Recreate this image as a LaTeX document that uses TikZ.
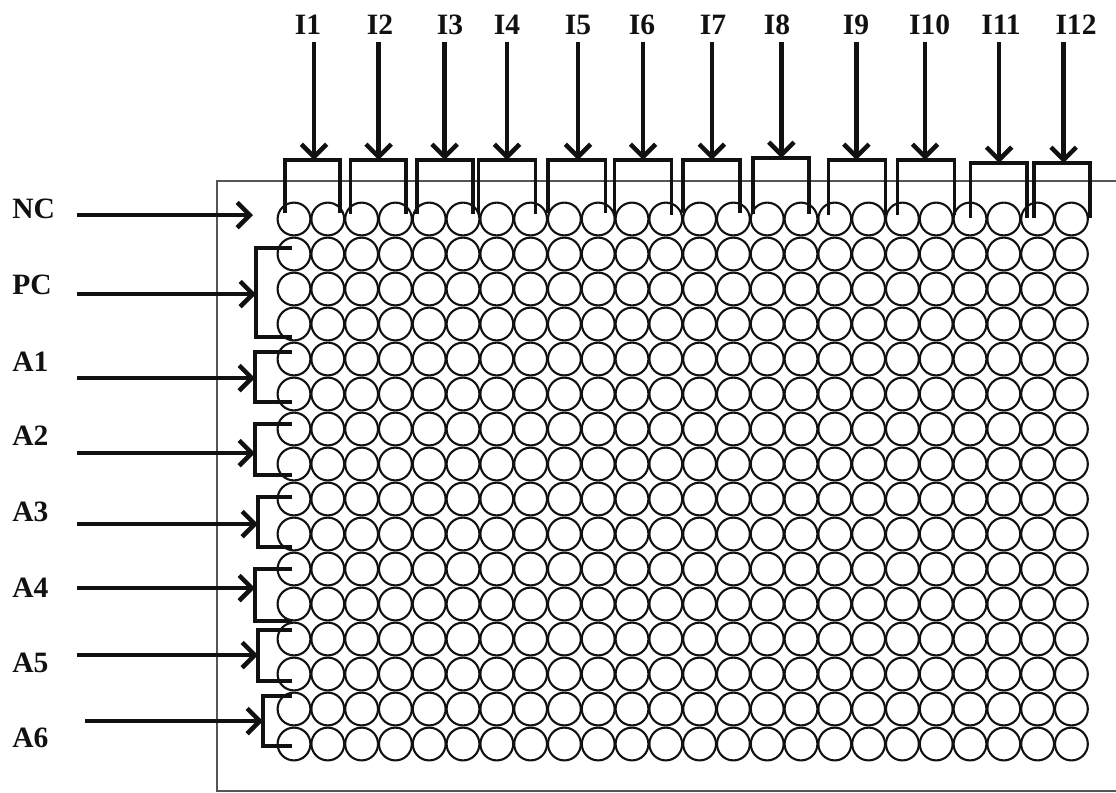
\documentclass[tikz,border=0pt]{standalone}
\usepackage{fontspec}
\setmainfont{Liberation Serif}
\usetikzlibrary{arrows.meta}
\definecolor{ink}{HTML}{111111}
\definecolor{frame}{HTML}{555555}
\tikzset{
  frameline/.style={draw=frame,line width=1.3pt},
  well/.style={circle,draw=ink,line width=1.5pt,minimum size=0.82cm,inner sep=0pt},
  clamp/.style={draw=ink,line width=2.4pt},
  feed/.style={-{Straight Barb[length=9pt,width=18pt]},draw=ink,line width=3.2pt},
  tag/.style={font=\fontsize{21}{21}\selectfont\bfseries,text=ink,inner sep=0pt}
}
\begin{document}
\begin{tikzpicture}[x=.025cm,y=-.025cm]
  \useasboundingbox (0,0) rectangle (1116,792);
  \draw[frameline] (1116,180.7) -- (216.7,180.7) -- (216.7,790.7) -- (1116,790.7);
  % plate: 16 rows x 24 wells
  \foreach \i in {1,...,16}{
    \foreach \j in {1,...,24}{
      \node[well] (c-\i-\j) at ({294+33.8*(\j-1)},{219+35*(\i-1)}) {};
    }
  }
  % column inputs
  \foreach \k/\lx/\ax/\bl/\br/\bt/\bb in {1/308/314/285/340/160/213,
      2/380/378.6/350.5/406/160/214, 3/450/444.6/417/473/160/214,
      4/507/507/478.6/535.7/160/214, 5/578/578/548/605.7/160/213,
      6/642/643/614.3/671.4/160/215, 7/713/711.8/683/740/160/213,
      8/777/781.4/752.9/809/158/214, 9/856/856.4/828.6/885.7/160/215,
      10/929.6/925/897.5/954.6/160/215, 11/1001/999/970.7/1027/163/218,
      12/1076/1063.6/1034/1090/163/218}{
    \node[tag] (I\k) at (\lx,25) {I\k};
    \coordinate (s\k) at (\ax,42);
    \coordinate (t\k) at (\ax,\bt);
    \draw[clamp] (\bl,\bb) |- (t\k) -| (\br,\bb);
    \draw[feed] (s\k) -- (t\k);
  }
  % row inputs
  \node[tag,anchor=west] (NC) at (12,209) {NC};
  \coordinate (sNC) at (77,215);
  \coordinate (tNC) at (253,215);
  \draw[feed] (sNC) -- (tNC);
  \foreach \n/\ly/\sx/\ay/\bx/\bt/\bb in {PC/285/77/294/256/248/337,
      A1/362/77/378/255/352/402, A2/436/77/453/255/424/475,
      A3/512/77/524/258/497/547, A4/588/77/588/255/569/621,
      A5/663/77/655/258/630/681, A6/738/85/721/263/696/746}{
    \node[tag,anchor=west] (\n) at (12,\ly) {\n};
    \coordinate (s\n) at (\sx,\ay);
    \coordinate (t\n) at (\bx,\ay);
    \draw[clamp] (292,\bt) -| (t\n) |- (292,\bb);
    \draw[feed] (s\n) -- (t\n);
  }
\end{tikzpicture}
\end{document}
